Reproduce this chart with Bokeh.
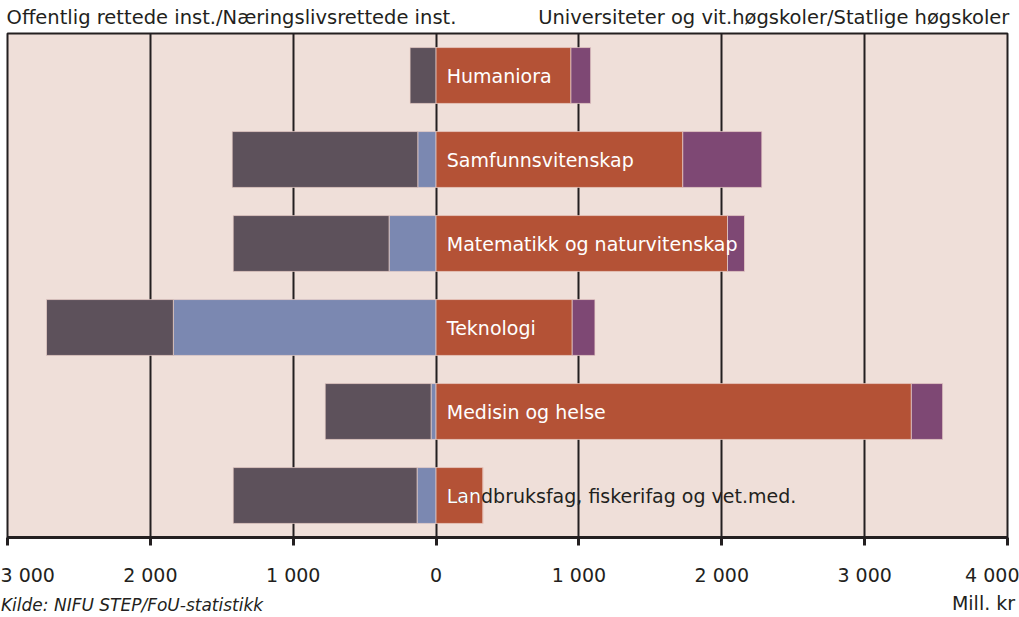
from bokeh.plotting import figure
from bokeh.models import ColumnDataSource, FactorRange, FixedTicker, LinearAxis
from bokeh.core.properties import value
from bokeh.embed import file_html
from bokeh.resources import INLINE

categories = ["Humaniora", "Samfunnsvitenskap", "Matematikk og naturvitenskap",
              "Teknologi", "Medisin og helse", "Landbruksfag, fiskerifag og vet.med."]
offentlig = [182, 1299, 1091, 888, 741, 1287]       # Offentlig rettede inst.
naeringsliv = [0, 128, 329, 1839, 35, 133]          # Næringslivsrettede inst.
universiteter = [944, 1727, 2040, 953, 3327, 329]   # Universiteter og vit.høgskoler
statlige = [138, 553, 119, 159, 219, 0]             # Statlige høgskoler
ticks = [-3000, -2000, -1000, 0, 1000, 2000, 3000, 4000]
tick_labels = ["3 000", "2 000", "1 000", "0", "1 000", "2 000", "3 000", "4 000"]
top_texts = ["Offentlig rettede inst./Næringslivsrettede inst.",
             "Universiteter og vit.høgskoler/Statlige høgskoler"]
bottom_texts = ["Kilde: NIFU STEP/FoU-statistikk", "Mill. kr"]

FONT = "DejaVu Sans"
TXT = "#231F20"
C_OFF, C_NAER, C_UNI, C_STAT = "#5D515B", "#7B88B1", "#B45236", "#7E4874"

src = ColumnDataSource(dict(
    cat=categories,
    off_neg=[-v for v in offentlig],
    naer_neg=[-v for v in naeringsliv],
    uni=universiteter,
    stat=statlige,
    lab_color=["#FFFFFF"] * (len(categories) - 1) + [TXT],
))

p = figure(width=1019, height=617, output_backend="svg", toolbar_location=None,
           x_range=(-3000, 4000), y_range=FactorRange(factors=categories[::-1], range_padding=0),
           y_axis_location=None, x_axis_location=None,
           min_border_left=7, min_border_right=12,
           min_border_top=33, min_border_bottom=79)
p.background_fill_color = "#EFDFD9"
p.border_fill_color = "#FFFFFF"
p.outline_line_color = TXT
p.outline_line_width = 2

edge = dict(line_color="#EBD0C9", line_width=1, line_alpha=0.7)
p.hbar_stack(["naer_neg", "off_neg"], y="cat", height=0.665, color=[C_NAER, C_OFF],
             source=src, **edge)
p.hbar_stack(["uni", "stat"], y="cat", height=0.665, color=[C_UNI, C_STAT],
             source=src, **edge)

p.text(x=75, y="cat", text="cat", source=src, text_color="lab_color",
       text_baseline="middle", text_align="left",
       text_font=value(FONT), text_font_size="19px")
p.text(x=[75], y=[categories[-1]], text=[categories[-1][:3]], text_color="#FFFFFF",
       text_baseline="middle", text_align="left",
       text_font=value(FONT), text_font_size="19px")

p.xgrid.ticker = FixedTicker(ticks=ticks)
p.xgrid.grid_line_color = TXT
p.xgrid.grid_line_width = 2
p.ygrid.visible = False

# main bottom axis
ax = LinearAxis(ticker=FixedTicker(ticks=ticks),
                major_label_overrides={t: l for t, l in zip(ticks, tick_labels)})
ax.axis_line_color = TXT
ax.axis_line_width = 3
ax.major_tick_line_color = TXT
ax.major_tick_line_width = 3
ax.major_tick_out = 8
ax.major_tick_in = 0
ax.minor_tick_line_color = None
ax.major_label_standoff = 18
ax.major_label_text_font = FONT
ax.major_label_text_font_size = "19px"
ax.major_label_text_color = TXT
p.add_layout(ax, "below")


def text_axis(positions, texts, size, standoff, style="normal"):
    a = LinearAxis(ticker=FixedTicker(ticks=positions),
                   major_label_overrides={t: s for t, s in zip(positions, texts)})
    a.axis_line_color = None
    a.major_tick_line_color = None
    a.minor_tick_line_color = None
    a.major_tick_out = 0
    a.major_tick_in = 0
    a.major_label_standoff = standoff
    a.major_label_text_font = FONT
    a.major_label_text_font_size = size
    a.major_label_text_font_style = style
    a.major_label_text_color = TXT
    return a


# header texts and footer texts
p.add_layout(text_axis([-1432, 2364], top_texts, "19.5px", 5), "above")
p.add_layout(text_axis([-2128], bottom_texts[:1], "17px", 6, "italic"), "below")
p.add_layout(text_axis([3832], bottom_texts[1:], "19px", -26), "below")

open("out.html", "w").write(file_html(p, INLINE))
